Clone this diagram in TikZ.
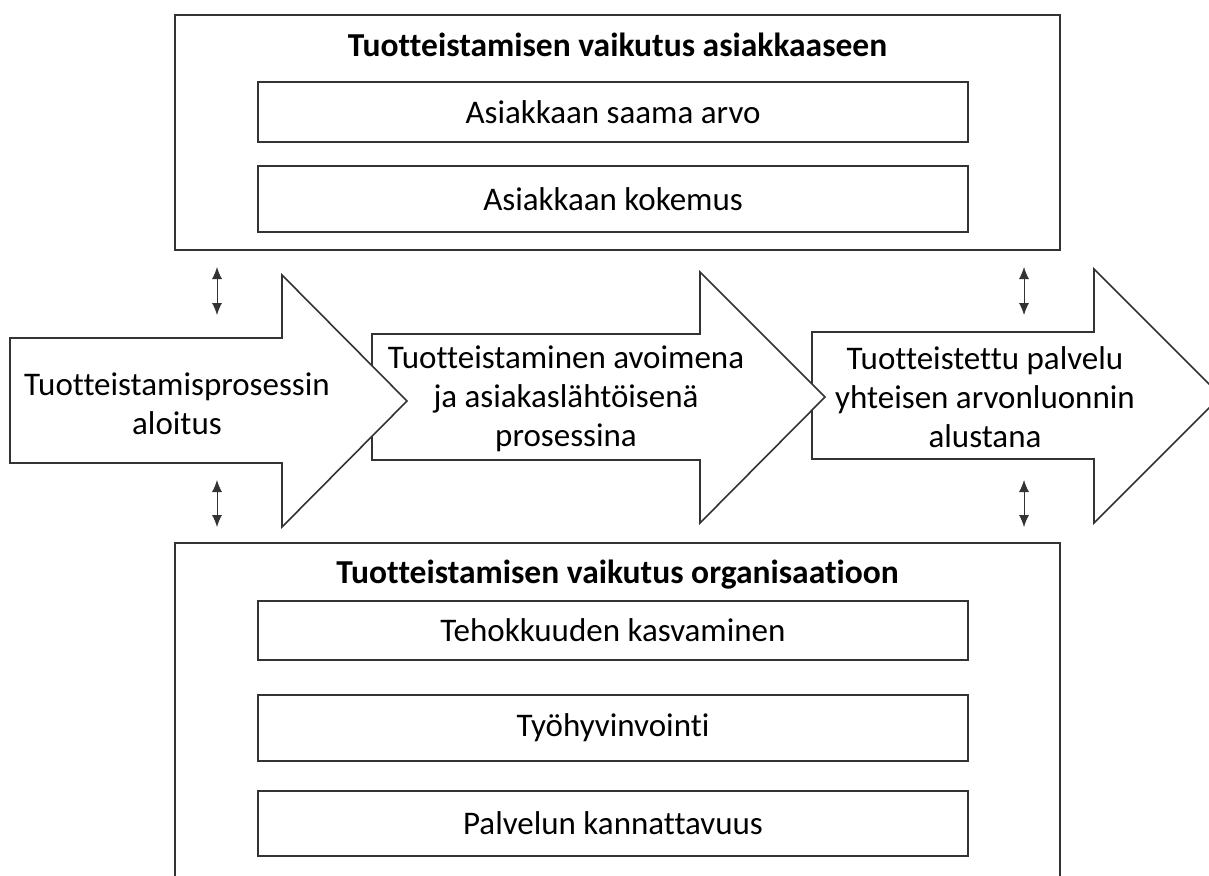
\documentclass[tikz,border=0pt]{standalone}
\usepackage{fontspec}
\setmainfont{Carlito}[Ligatures=NoCommon]
\usetikzlibrary{arrows.meta}
\begin{document}
\begin{tikzpicture}[x=1pt,y=-1pt,
  outline/.style={draw=black!80,line width=1.6pt},
  flowarrow/.style={outline,fill=white,line join=miter},
  itembox/.style={outline,minimum width=710pt,inner sep=0pt},
  txt/.style={font=\fontsize{33}{39}\selectfont,align=center,inner sep=0pt},
  ttl/.style={font=\fontsize{33.5}{39}\selectfont\bfseries,inner sep=0pt},
  link/.style={draw=black!80,line width=0.9pt,{Latex[length=12pt,width=10pt]}-{Latex[length=12pt,width=10pt]}}
]
\useasboundingbox (0,0) rectangle (1209,875);
% top box
\node[outline,minimum width=885pt,minimum height=235pt,inner sep=0pt] (topbox) at (617.5,132.5) {};
\node[ttl] (toptitle) at (617.5,45) {Tuotteistamisen vaikutus asiakkaaseen};
\node[itembox,minimum height=60pt] (t1) at (613,112) {};
\node[txt] (t1txt) at (613,112) {Asiakkaan saama arvo};
\node[itembox,minimum height=66pt] (t2) at (613,199) {};
\node[txt] (t2txt) at (613,199) {Asiakkaan kokemus};
% bottom box (open at the bottom edge)
\coordinate (bl) at (175,880);
\coordinate (br) at (1060,880);
\draw[outline] (bl) -- (175,543) -- (1060,543) -- (br);
\node[ttl] (bottitle) at (617.5,575) {Tuotteistamisen vaikutus organisaatioon};
\node[itembox,minimum height=59pt] (b1) at (613,630.5) {};
\node[txt] (b1txt) at (613,630.5) {Tehokkuuden kasvaminen};
\node[itembox,minimum height=66pt] (b2) at (613,728) {};
\node[txt] (b2txt) at (613,728) {Työhyvinvointi};
\node[itembox,minimum height=65pt] (b3) at (613,823.5) {};
\node[txt] (b3txt) at (613,823.5) {Palvelun kannattavuus};
% process arrows (drawn back to front)
\draw[flowarrow] (812,332) -- (1094,332) -- (1094,269) -- (1221,396) -- (1094,523) -- (1094,459) -- (812,459) -- cycle;
\draw[flowarrow] (372,334) -- (700,334) -- (700,272) -- (825,397) -- (700,523) -- (700,460) -- (372,460) -- cycle;
\draw[flowarrow] (10,338) -- (282,338) -- (282,275) -- (407,401) -- (282,527) -- (282,463) -- (10,463) -- cycle;
\node[txt] (a1) at (177,404) {Tuotteistamisprosessin\\aloitus};
\node[txt] (a2) at (566,399) {Tuotteistaminen avoimena\\ja asiakaslähtöisenä\\prosessina};
\node[txt] (a3) at (985,397) {Tuotteistettu palvelu\\yhteisen arvonluonnin\\alustana};
% double-headed links
\coordinate (l1a) at (217,267); \coordinate (l1b) at (217,315);
\coordinate (l2a) at (217,480); \coordinate (l2b) at (217,527);
\coordinate (l3a) at (1024,267); \coordinate (l3b) at (1024,315);
\coordinate (l4a) at (1024,480); \coordinate (l4b) at (1024,527);
\draw[link] (l1a) -- (l1b);
\draw[link] (l2a) -- (l2b);
\draw[link] (l3a) -- (l3b);
\draw[link] (l4a) -- (l4b);
\end{tikzpicture}
\end{document}
